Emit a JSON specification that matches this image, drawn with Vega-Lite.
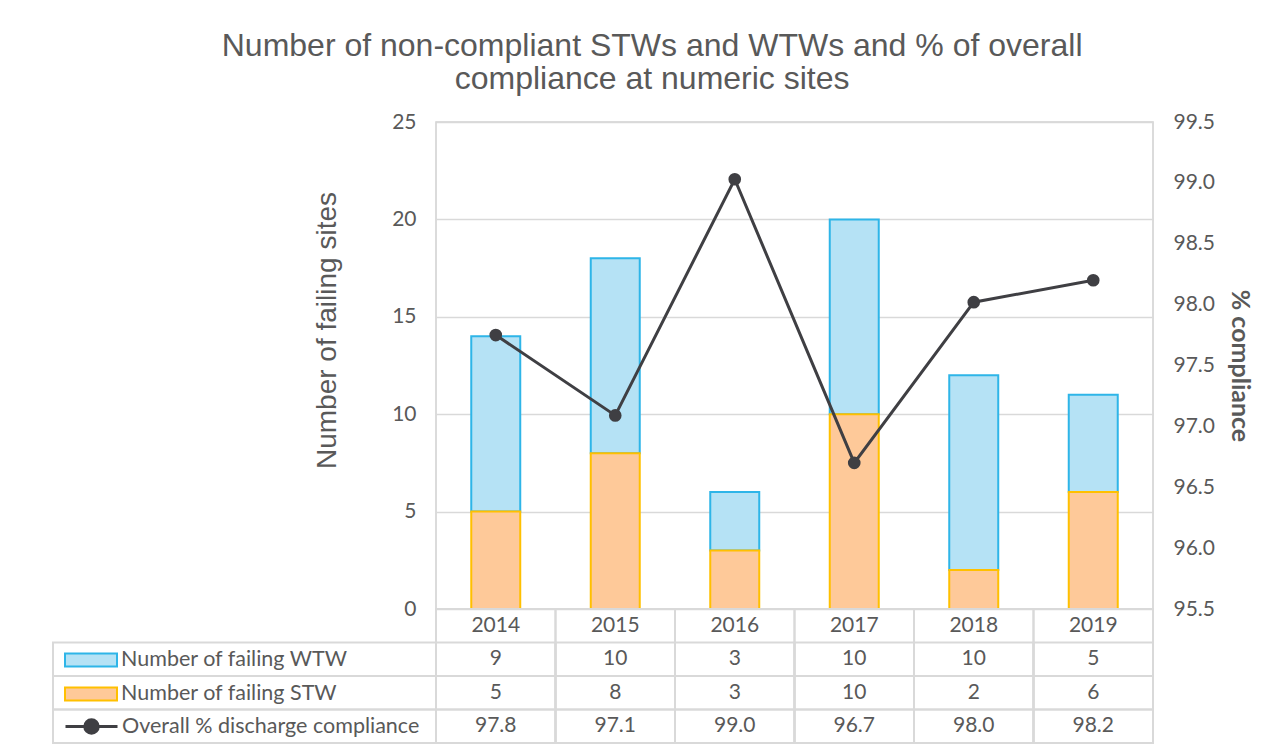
{
  "$schema": "https://vega.github.io/schema/vega-lite/v6.json",
  "background": "white",
  "padding": {"left": 52, "top": 30, "right": 5, "bottom": 5},
  "title": {
    "text": ["Number of non-compliant STWs and WTWs and % of overall", "compliance at numeric sites"],
    "font": "Liberation Sans",
    "fontSize": 32,
    "fontWeight": "normal",
    "color": "#595959",
    "anchor": "middle",
    "offset": 14,
    "lineHeight": 33
  },
  "datasets": {
    "main": [
      {"year": "2014", "WTW": 9, "STW": 5, "pct": 97.75},
      {"year": "2015", "WTW": 10, "STW": 8, "pct": 97.09},
      {"year": "2016", "WTW": 3, "STW": 3, "pct": 99.03},
      {"year": "2017", "WTW": 10, "STW": 10, "pct": 96.7},
      {"year": "2018", "WTW": 10, "STW": 2, "pct": 98.02},
      {"year": "2019", "WTW": 5, "STW": 6, "pct": 98.2}
    ],
    "rows": [{"r": "WTW"}, {"r": "STW"}, {"r": "pct"}]
  },
  "columns": 2,
  "spacing": 0,
  "bounds": "flush",
  "concat": [
    {
      "width": 383,
      "height": 487,
      "data": {"values": []},
      "mark": {"type": "rect", "opacity": 0},
      "encoding": {}
    },
    {
      "width": 717,
      "height": 487,
      "data": {"name": "main"},
      "view": {"stroke": "#d0d0d0", "strokeWidth": 1.5},
      "layer": [
        {
          "transform": [{"fold": ["WTW", "STW"], "as": ["series", "count"]}],
          "mark": {"type": "bar", "width": {"band": 0.41}, "strokeWidth": 2},
          "encoding": {
            "x": {"field": "year", "type": "ordinal", "scale": {"paddingInner": 0, "paddingOuter": 0}, "axis": null},
            "y": {
              "field": "count", "type": "quantitative", "stack": "zero",
              "scale": {"domain": [0, 25]},
              "axis": {"title": "Number of failing sites", "values": [0, 5, 10, 15, 20, 25], "grid": true, "labelPadding": 20,
                       "titleFont": "Liberation Sans", "titleFontSize": 28, "titleFontWeight": "normal", "titlePadding": 50, "titleY": 208}
            },
            "color": {
              "field": "series", "type": "nominal",
              "scale": {"domain": ["WTW", "STW"], "range": ["#b5e2f5", "#fec999"]},
              "legend": {"title": null, "orient": "none", "legendX": 11, "legendY": 521, "symbolType": "M-1,-0.25H1V0.25H-1Z", "symbolSize": 2704, "symbolStrokeWidth": 2, "clipHeight": 34, "rowPadding": 0, "labelOffset": 3, "labelFont": "Lato", "labelFontSize": 21.5, "labelColor": "#595959", "padding": 0, "labelLimit": 400,
                         "labelExpr": "datum.label == 'WTW' ? 'Number of failing WTW' : 'Number of failing STW'"}
            },
            "stroke": {
              "field": "series", "type": "nominal",
              "scale": {"domain": ["WTW", "STW"], "range": ["#2eb5e8", "#ffc000"]},
              "legend": {"title": null, "orient": "none", "legendX": 11, "legendY": 521, "symbolType": "M-1,-0.25H1V0.25H-1Z", "symbolSize": 2704, "symbolStrokeWidth": 2, "clipHeight": 34, "rowPadding": 0, "labelOffset": 3, "labelFont": "Lato", "labelFontSize": 21.5, "labelColor": "#595959", "padding": 0, "labelLimit": 400,
                         "labelExpr": "datum.label == 'WTW' ? 'Number of failing WTW' : 'Number of failing STW'"}
            },
            "order": {"field": "series", "sort": "ascending"}
          }
        },
        {
          "layer": [
            {
              "mark": {"type": "line", "color": "#3f3f43", "strokeWidth": 3},
              "encoding": {
                "x": {"field": "year", "type": "ordinal", "axis": null},
                "y": {
                  "field": "pct", "type": "quantitative",
                  "scale": {"domain": [95.5, 99.5], "zero": false},
                  "axis": {"orient": "right", "title": "% compliance", "values": [95.5, 96, 96.5, 97, 97.5, 98, 98.5, 99, 99.5], "format": ".1f", "grid": false, "labelPadding": 20,
                           "titleFont": "Lato", "titleFontSize": 25, "titleFontWeight": "bold", "titlePadding": 12}
                }
              }
            },
            {
              "mark": {"type": "point", "filled": true, "size": 160, "color": "#3f3f43", "opacity": 1},
              "encoding": {
                "x": {"field": "year", "type": "ordinal", "axis": null},
                "y": {"field": "pct", "type": "quantitative"}
              }
            }
          ]
        }
      ],
      "resolve": {"scale": {"y": "independent"}}
    },
    {
      "width": 383,
      "height": 134,
      "layer": [
        {
          "data": {"name": "rows"},
          "mark": {"type": "rect", "fill": "transparent", "stroke": "#d9d9d9", "strokeWidth": 2},
          "encoding": {
            "y": {"field": "r", "type": "nominal", "scale": {"domain": ["yr", "WTW", "STW", "pct"], "paddingInner": 0, "paddingOuter": 0}, "axis": null}
          }
        },
        {
          "data": {"values": []},
          "mark": {"type": "point", "filled": false, "color": "#3f3f43", "strokeWidth": 3, "opacity": 1},
          "encoding": {
            "shape": {
              "datum": "Overall % discharge compliance",
              "scale": {"range": ["M-1,0H1M0.26,0A0.26,0.26 0 1,1 -0.26,0A0.26,0.26 0 1,1 0.26,0M0.15,0A0.15,0.15 0 1,1 -0.15,0A0.15,0.15 0 1,1 0.15,0M0.05,0A0.05,0.05 0 1,1 -0.05,0A0.05,0.05 0 1,1 0.05,0"]},
              "legend": {"title": null, "orient": "none", "legendX": 11, "legendY": 588, "symbolSize": 2704, "symbolStrokeWidth": 3, "symbolStrokeColor": "#3f3f43", "clipHeight": 33, "rowPadding": 0, "labelOffset": 3, "labelFont": "Lato", "labelFontSize": 21.5, "labelColor": "#595959", "padding": 0, "labelLimit": 400}
            }
          }
        }
      ]
    },
    {
      "width": 717,
      "height": 134,
      "data": {"name": "main"},
      "layer": [
        {
          "mark": {"type": "rect", "fill": "transparent", "stroke": "#d9d9d9", "strokeWidth": 2},
          "encoding": {
            "x": {"field": "year", "type": "ordinal", "scale": {"paddingInner": 0, "paddingOuter": 0}, "axis": null}
          }
        },
        {
          "transform": [{"fold": ["WTW", "STW", "pct"], "as": ["r", "v"]}],
          "mark": {"type": "rect", "fill": "transparent", "stroke": "#d9d9d9", "strokeWidth": 2},
          "encoding": {
            "x": {"field": "year", "type": "ordinal", "axis": null},
            "y": {"field": "r", "type": "nominal", "scale": {"domain": ["yr", "WTW", "STW", "pct"], "paddingInner": 0, "paddingOuter": 0}, "axis": null}
          }
        },
        {
          "mark": {"type": "text", "font": "Lato", "fontSize": 21, "color": "#595959"},
          "encoding": {
            "x": {"field": "year", "type": "ordinal", "axis": null},
            "y": {"datum": "yr", "type": "nominal", "axis": null},
            "text": {"field": "year"}
          }
        },
        {
          "mark": {"type": "text", "font": "Lato", "fontSize": 21, "color": "#595959"},
          "encoding": {
            "x": {"field": "year", "type": "ordinal", "axis": null},
            "y": {"datum": "WTW", "type": "nominal", "axis": null},
            "text": {"field": "WTW"}
          }
        },
        {
          "mark": {"type": "text", "font": "Lato", "fontSize": 21, "color": "#595959"},
          "encoding": {
            "x": {"field": "year", "type": "ordinal", "axis": null},
            "y": {"datum": "STW", "type": "nominal", "axis": null},
            "text": {"field": "STW"}
          }
        },
        {
          "mark": {"type": "text", "font": "Lato", "fontSize": 21, "color": "#595959"},
          "encoding": {
            "x": {"field": "year", "type": "ordinal", "axis": null},
            "y": {"datum": "pct", "type": "nominal", "axis": null},
            "text": {"field": "pct", "format": ".1f"}
          }
        }
      ]
    }
  ],
  "config": {
    "view": {"stroke": null},
    "axis": {"labelFont": "Lato", "labelFontSize": 21, "labelColor": "#595959", "titleColor": "#595959", "domain": false, "ticks": false, "gridColor": "#d9d9d9", "gridWidth": 1.5}
  }
}
